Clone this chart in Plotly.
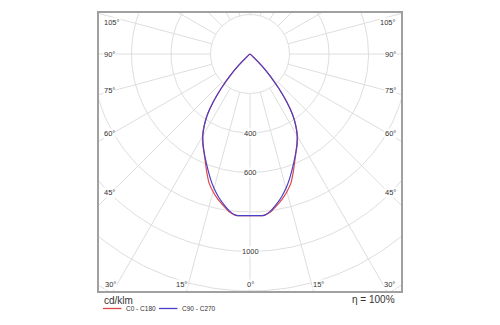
import numpy as np
import plotly.graph_objects as go

# Luminous intensity distribution, gamma measured from nadir (deg), values in cd/klm
gamma = [0, 2.5, 5, 7.5, 10, 12.5, 15, 17.5, 20, 22.5, 25, 27.5, 30,
         32.5, 35, 37.5, 40, 42.5, 45, 47.5, 50]
i_c0_c180 = [818, 819, 820, 806, 780, 753, 722, 687, 639, 591, 551, 518, 481,
             434, 378, 305, 225, 150, 85, 25, 0]
i_c90_c270 = [818, 819, 820, 801, 772, 740, 704, 664, 623, 585, 549, 514, 477,
              431, 377, 305, 225, 150, 85, 25, 0]

series_names = ["C0 - C180", "C90 - C270"]
series_colors = ["#e04848", "#4a3fc8"]

grid_radii = [200, 400, 600, 800, 1000, 1200, 1400]
radius_labels = [400, 600, 1000]
side_angles = [45, 60, 75, 90, 105]
bottom_angles = [-30, -15, 0, 15, 30]

# page geometry (pixels)
W, H = 500, 325
ML, MR, MT, MB = 99, 99, 13, 34
PW, PH = W - ML - MR, H - MT - MB
S = 0.1975                      # pixels per cd/klm
Y_MIN = -1200.0
Y_MAX = PH / S + Y_MIN
X_HALF = PW / 2 / S

GRID = "#dedede"
TEXT = "#333333"
FONT = "Liberation Sans"


def px_to_paper_x(px):
    return (px - ML) / PW


def px_to_paper_y(py):
    return (MT + PH - py) / PH


def polar_xy(g_deg, r):
    g = np.radians(np.asarray(g_deg, dtype=float))
    r = np.asarray(r, dtype=float)
    return r * np.sin(g), -r * np.cos(g)


fig = go.Figure()

# polar grid: circles
t = np.linspace(0, 2 * np.pi, 361)
for r in grid_radii:
    fig.add_trace(go.Scatter(x=r * np.cos(t), y=r * np.sin(t), mode="lines",
                             line=dict(color=GRID, width=1), hoverinfo="skip",
                             showlegend=False))

# polar grid: rays every 15 degrees, starting at the inner circle
for a in range(0, 360, 15):
    rx, ry = polar_xy([a, a], [grid_radii[0], 1700])
    fig.add_trace(go.Scatter(x=rx, y=ry, mode="lines",
                             line=dict(color=GRID, width=1), hoverinfo="skip",
                             showlegend=False))

# intensity curves: left half mirrored, right half as measured
for vals, name, col in zip([i_c0_c180, i_c90_c270], series_names, series_colors):
    g_full = [-g for g in gamma[::-1]] + gamma[1:]
    i_full = vals[::-1] + vals[1:]
    cx, cy = polar_xy(g_full, i_full)
    fig.add_trace(go.Scatter(x=cx, y=cy, mode="lines", name=name,
                             line=dict(color=col, width=1.2, shape="spline",
                                       smoothing=0.4),
                             showlegend=False))

annotations = []

# radial value labels along the nadir ray
for r in radius_labels:
    annotations.append(dict(x=0, y=-r, xref="x", yref="y", text=str(r),
                            showarrow=False, bgcolor="white", borderpad=0,
                            font=dict(family=FONT, size=7.5, color=TEXT),
                            xanchor="center", yanchor="middle"))

# angle labels on the left and right frame edges
side_inset = 13 / S
top_limit = Y_MAX - 9.5 / S
for a in side_angles:
    ar = np.radians(a)
    dx = X_HALF - side_inset
    y = 0.0 if a == 90 else -dx / np.tan(ar)
    y = min(y, top_limit)
    for side in (-1, 1):
        annotations.append(dict(
            x=px_to_paper_x(103) if side < 0 else px_to_paper_x(397),
            y=y, xref="paper", yref="y", text=f"{a}°", showarrow=False,
            bgcolor="white", borderpad=0,
            font=dict(family=FONT, size=7.5, color=TEXT),
            xanchor="left" if side < 0 else "right", yanchor="middle"))

# angle labels along the bottom edge
y_bottom = Y_MIN + 7 / S
for a in bottom_angles:
    x = -y_bottom * np.tan(np.radians(a))
    annotations.append(dict(
        x=x, y=y_bottom, xref="x", yref="y", text=f"{abs(a)}°",
        showarrow=False, bgcolor="white", borderpad=0,
        font=dict(family=FONT, size=7.5, color=TEXT),
        xanchor="center" if a == 0 else ("right" if a < 0 else "left"),
        yanchor="middle"))

# unit and efficiency text
annotations.append(dict(x=px_to_paper_x(102), y=px_to_paper_y(300.5),
                        xref="paper", yref="paper", text="cd/klm",
                        showarrow=False, xanchor="left", yanchor="middle",
                        font=dict(family=FONT, size=10, color=TEXT)))
annotations.append(dict(x=px_to_paper_x(397), y=px_to_paper_y(299.5),
                        xref="paper", yref="paper", text="η = 100%",
                        showarrow=False, xanchor="right", yanchor="middle",
                        font=dict(family=FONT, size=10, color=TEXT)))

# legend samples
shapes = []
legend_y = px_to_paper_y(308.5)
for (x0, x1, tx), name, col in zip([(103, 121.5, 123.5), (159, 177.5, 179.5)],
                                   series_names, series_colors):
    shapes.append(dict(type="line", xref="paper", yref="paper",
                       x0=px_to_paper_x(x0), x1=px_to_paper_x(x1),
                       y0=legend_y, y1=legend_y,
                       line=dict(color=col, width=1.3)))
    annotations.append(dict(x=px_to_paper_x(tx), y=legend_y, xref="paper",
                            yref="paper", text=name, showarrow=False,
                            xanchor="left", yanchor="middle",
                            font=dict(family=FONT, size=6.5, color=TEXT)))

axis_common = dict(showgrid=False, zeroline=False, showticklabels=False,
                   ticks="", showline=True, mirror=True, linecolor="#a0a0a0",
                   linewidth=1.5, fixedrange=True)

fig.update_layout(
    width=W, height=H,
    margin=dict(l=ML, r=MR, t=MT, b=MB),
    paper_bgcolor="white", plot_bgcolor="white",
    xaxis=dict(range=[-X_HALF, X_HALF], **axis_common),
    yaxis=dict(range=[Y_MIN, Y_MAX], **axis_common),
    annotations=annotations, shapes=shapes,
    showlegend=False,
)

fig.write_html("out.html")
